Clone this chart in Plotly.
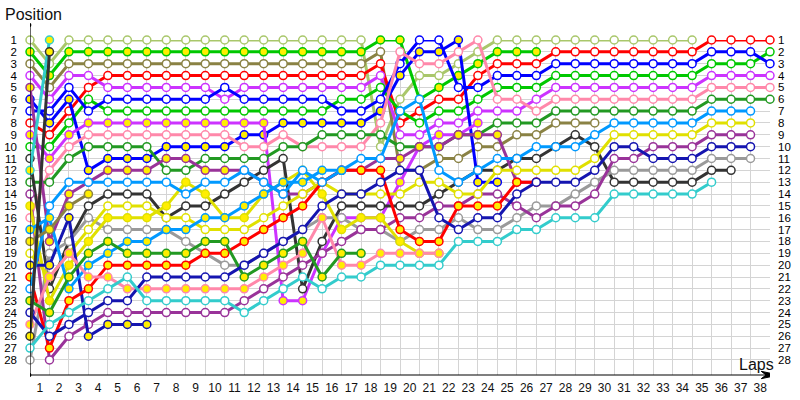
import plotly.graph_objects as go

# ---------------- data: position per lap (lap 0 = grid) ----------------
olw = [1,3,1,1,1,1,1,1,1,1,1,1,1,1,1,1,1,1,10,6,4,4,3,2,1,1,1,1,1,1,1,1,1,1,1]
gry = [2,4,2,2,2,2,2,2,2,2,2,2,2,2,2,2,2,2,1,1,6,5,4,3,2,2,2]
odw = [3,5,3,3,3,3,3,3,3,3,3,3,3,3,3,3,3,3,2,12,12,11,11,10,10,9,9,8,8,8]
rdw = [8,9,7,5,4,4,4,4,4,4,4,4,4,4,4,4,4,4,3,8,7,6,6,4,3,3,3,2,2,2,2,2,2,2,2,1,1,1,1]
viw = [4,6,4,4,5,5,5,5,5,5,6,5,5,5,5,5,5,5,4,9,9,8,8,7,7,7,6,5,5,5,5,5,5,5,5,4,4,4,4]
grw = [10,10,8,6,7,7,7,7,7,7,7,7,7,7,7,7,6,6,5,7,8,7,7,6,5,5,5,4,4,4,4,4,4,4,4,3,3,3,2]
blw = [7,7,5,7,6,6,6,6,6,6,5,6,6,6,6,6,7,7,6,3,1,1,5,5,4,4,4,3,3,3,3,3,3,3,3,2,2,2,3]
bly = [6,8,6,12,11,11,11,10,10,10,10,9,9,8,8,8,8,8,7,4,2,2,1,13,13]
viy = [9,11,9,8,8,8,8,8,8,8,8,8,8,23,23,19,16,16,16,13,10,9,9,8]
pkw = [16,12,10,9,9,9,9,9,9,9,9,10,10,9,10,10,10,10,8,2,3,3,2,1,6,6,7,6,6,6,6,6,6,6,6,5,5,5,5]
fgw = [13,13,11,10,10,10,10,12,12,11,11,11,11,10,10,9,9,9,9,10,10,10,9,9,8,8,8,7,7,7,7,7,7,7,7,6,6,6,6]
bkw = [11,22,18,15,14,14,14,16,15,15,14,13,12,11,22,18,15,15,15,15,15,14,13,12,12,11,11,10,9,10,13,13,13,13,13,12,12]
cyy = [12,1]
bky = [26,2]
gyw = [28,19,18,16,17,17,17,17,18,19,20,20,19,18,17,16,16,17,17,18,17,17,16,17,17,16,15,15,14,13,12,12,12,12,12,11,11,11]
puy = [5,18,14,13,12,12,12,11,11,12,12,12,13,14,14,13,12,12,11,11,10,10,9,9,9,13,13]
puw = [14,28,26,25,24,24,24,24,24,24,24,23,22,21,20,19,18,17,17,16,16,15,15,14,14,15,16,15,15,14,11,11,10,10,10,9,9,9]
yey = [15,23,20,18,16,16,16,15,13,14,16,16,14,13,12,14,17,16,16,18,19,19]
yew = [19,21,19,17,15,15,15,16,16,17,17,17,16,15,14,13,14,14,14,14,13,13,14,14,12,12,12,12,12,11,9,9,9,9,9,8,8,8]
nvy = [20,20,16,26,25,25,25]
rdy = [21,27,23,22,20,20,20,20,20,19,19,18,17,16,15,13,12,12,12,17,18,18,15,15,15,13,13]
azw = [22,15,13,13,13,13,13,13,14,13,13,12,13,14,12,13,12,11,11,7,6,12,13,12,11,11,10,10,10,9,8,8,8,8,8,7,7,7]
azy = [17,16,22,20,19,18,18,17,17,16,16,15,14,13,13,12,12]
pky = [25,21,19,21,21,22,22,22,22,22,22,22,21,20,19,16,20,20,19,19,19,19]
fgy = [23,24,21,19,18,19,19,19,19,18,18,21,20,19,18,21,19,19]
nvw = [24,26,25,24,23,23,21,21,21,21,21,20,19,18,17,15,14,14,13,12,12,16,17,16,16,14,13,13,13,12,10,10,11,11,11,10,10,10]
ody = [18,17,15,14]
cyw = [27,25,24,23,22,21,23,23,23,23,23,24,23,22,21,22,21,21,20,20,20,20,18,18,18,17,17,16,16,16,14,14,14,14,14,13]

positions = list(range(1, 29))
lap_labels = [str(n) for n in range(1, 39)]

# ---------------- styles ----------------
OL, GR, OD, RD, VI = "#a9c76b", "#00c800", "#8a8244", "#ff0000", "#cc33ff"
BL, PK, FG, AZ, YE = "#0000ff", "#ff88aa", "#229922", "#0099ff", "#e0e000"
PU, NV, GY, BK, CY = "#993399", "#1515b0", "#9a9a9a", "#333333", "#33cccc"
YF, WF = "#ffee00", "#ffffff"

series = [
    (olw, OL, WF), (gry, GR, YF), (odw, OD, WF), (rdw, RD, WF), (viw, VI, WF),
    (grw, GR, WF), (blw, BL, WF), (bly, BL, YF), (viy, VI, YF), (pkw, PK, WF),
    (fgw, FG, WF), (bkw, BK, WF), (gyw, GY, WF), (puy, PU, YF), (puw, PU, WF),
    (yey, YE, YF), (yew, YE, WF), (nvy, NV, YF), (rdy, RD, YF), (azw, AZ, WF),
    (azy, AZ, YF), (pky, PK, YF), (fgy, FG, YF), (nvw, NV, WF), (ody, OD, YF),
    (cyw, CY, WF), (cyy, CY, YF), (bky, BK, YF),
]

fig = go.Figure()
for vals, col, fill in series:
    fig.add_trace(go.Scatter(
        x=list(range(len(vals))), y=vals, mode="lines+markers",
        line=dict(color=col, width=3),
        marker=dict(size=8, color=fill, line=dict(color=col, width=1.5)),
        cliponaxis=False, showlegend=False, hoverinfo="skip"))

# invisible trace to carry the right-hand position axis
fig.add_trace(go.Scatter(x=[0], y=[1], yaxis="y2", mode="markers",
                         marker=dict(opacity=0), showlegend=False, hoverinfo="skip"))

FONT = "Liberation Sans"
YR = [29.27, 1]
fig.update_layout(
    width=800, height=400, margin=dict(l=30, r=30, t=40, b=25, autoexpand=False),
    paper_bgcolor="white", plot_bgcolor="white",
    font=dict(family=FONT, size=11.5, color="#111111"),
    xaxis=dict(range=[0, 38], tickvals=[n - 0.5 for n in range(1, 39)], ticktext=lap_labels,
               showgrid=False, zeroline=False, showline=False, ticks="", automargin=False,
               tickfont=dict(size=12, color="#111111"), ticklabelstandoff=4,
               minor=dict(tickvals=list(range(1, 39)), showgrid=True,
                          gridcolor="#d4d4d4", gridwidth=1, ticks="")),
    yaxis=dict(range=YR, tickvals=positions, ticktext=[str(p) for p in positions],
               showgrid=True, gridcolor="#d4d4d4", gridwidth=1, zeroline=False,
               showline=False, ticks="", ticklabelstandoff=12, automargin=False,
               tickfont=dict(size=11.5, color="#000000")),
    yaxis2=dict(range=YR, overlaying="y", side="right", tickvals=positions,
                ticktext=[str(p) for p in positions], showgrid=False, zeroline=False,
                showline=False, ticks="", ticklabelstandoff=7, automargin=False,
                tickfont=dict(size=11.5, color="#000000")),
)

# axis lines, end dots and arrow
fig.add_shape(type="line", xref="x", yref="paper", x0=0, x1=0, y0=0, y1=1.045,
              line=dict(color="black", width=1.2))
fig.add_shape(type="line", xref="x", yref="paper", x0=0, x1=38.3, y0=0, y1=0,
              line=dict(color="black", width=1.2))
for yy in (0, 1.045):
    fig.add_shape(type="circle", xref="x", yref="paper", x0=-0.07, x1=0.07,
                  y0=yy - 0.006, y1=yy + 0.006, fillcolor="black", line=dict(width=0))
fig.add_shape(type="path", xref="x", yref="paper",
              path="M 37.55 -0.011 L 38.45 0 L 37.55 0.011 L 37.8 0 Z",
              fillcolor="black", line=dict(color="black", width=1))

fig.add_annotation(text="Position", xref="paper", yref="paper", x=-0.036, y=1.075,
                   xanchor="left", yanchor="middle", showarrow=False,
                   font=dict(family=FONT, size=16, color="#111111"))
fig.add_annotation(text="Laps", xref="paper", yref="paper", x=0.982, y=0.03,
                   xanchor="center", yanchor="middle", showarrow=False,
                   font=dict(family=FONT, size=16, color="#111111"))

fig.write_html("out.html", config={"displayModeBar": False},
               post_script="document.body.style.margin='0px';")
